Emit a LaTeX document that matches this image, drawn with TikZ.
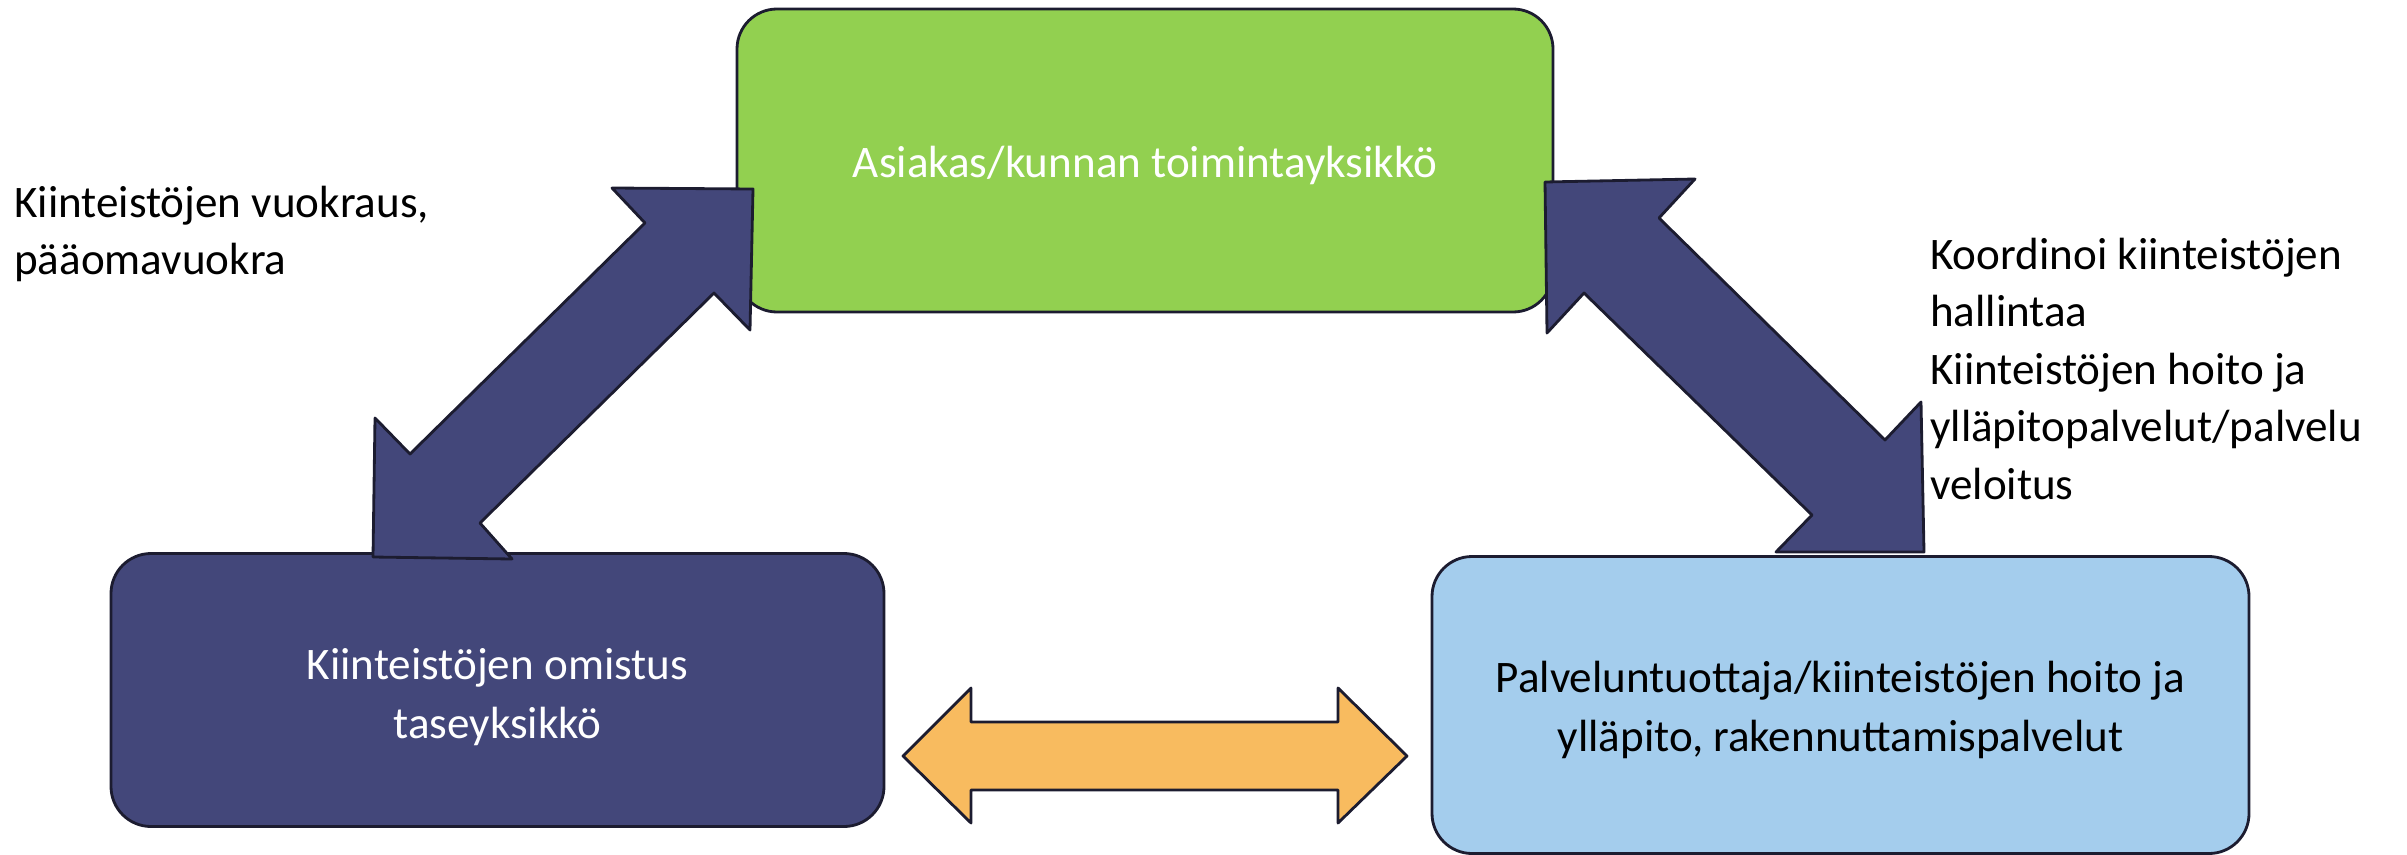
\documentclass[tikz,border=0pt]{standalone}
\usepackage{fontspec}
\setmainfont{Carlito}
\definecolor{cgreen}{RGB}{146,208,80}
\definecolor{cnavy}{RGB}{67,71,122}
\definecolor{cblue}{RGB}{164,205,237}
\definecolor{corange}{RGB}{248,187,95}
\definecolor{cline}{RGB}{28,28,48}
\tikzset{
  boxbase/.style={draw=cline, line width=2.4pt, rounded corners=12mm, inner sep=0pt},
  boxtext/.style={inner sep=0pt, align=center, font=\fontsize{38.5}{50}\selectfont},
  blockarrow/.style={draw=cline, line width=2.4pt, line join=round},
  lbl/.style={inner sep=0pt, align=left, font=\fontsize{38.5}{49}\selectfont, text=black}
}
\begin{document}
\begin{tikzpicture}[x=0.3mm,y=-0.3mm]
\useasboundingbox (0,0) rectangle (2407,855);
% boxes
\node[boxbase, fill=cgreen, minimum width=244.8mm, minimum height=90.9mm] (asiakas) at (1145,160.5) {};
\node[boxbase, fill=cnavy, minimum width=231.9mm, minimum height=81.9mm] (omistus) at (497.5,690) {};
\node[boxbase, fill=cblue, minimum width=245.1mm, minimum height=89.1mm] (palvelu) at (1840.5,705) {};
\node[boxtext, text=white] (asiakas-t) at ([yshift=-1.5mm]asiakas.center) {Asiakas/kunnan toimintayksikkö};
\node[boxtext, text=white] (omistus-t) at ([yshift=-2.1mm]omistus.center) {Kiinteistöjen omistus\\taseyksikkö};
\node[boxtext, text=black] (palvelu-t) at ([yshift=-1.5mm]palvelu.center) {Palveluntuottaja/kiinteistöjen hoito ja\\ylläpito, rakennuttamispalvelut};
% left double arrow
\draw[blockarrow, fill=cnavy] (612,188) -- (753,189) -- (750,330) -- (714,293) -- (480,523) -- (512,559) -- (373,557) -- (375,418) -- (410,454) -- (645,223) -- cycle;
% right double arrow
\draw[blockarrow, fill=cnavy] (1545,182) -- (1695,179) -- (1659,218) -- (1885,440) -- (1921,402) -- (1924,552) -- (1776,552) -- (1812,515) -- (1584,293) -- (1547,333) -- cycle;
% orange double arrow
\draw[blockarrow, fill=corange] (903,756) -- (971,688) -- (971,722) -- (1338,722) -- (1338,688) -- (1407,756) -- (1338,823) -- (1338,790) -- (971,790) -- (971,823) -- cycle;
% labels
\node[lbl, anchor=north west] (vuokra) at (14,186) {Kiinteistöjen vuokraus,\\pääomavuokra};
\node[lbl, anchor=north west] (koord) at (1930,238) {Koordinoi kiinteistöjen\\hallintaa\\Kiinteistöjen hoito ja\\ylläpitopalvelut/palvelu\\veloitus};
\end{tikzpicture}
\end{document}
